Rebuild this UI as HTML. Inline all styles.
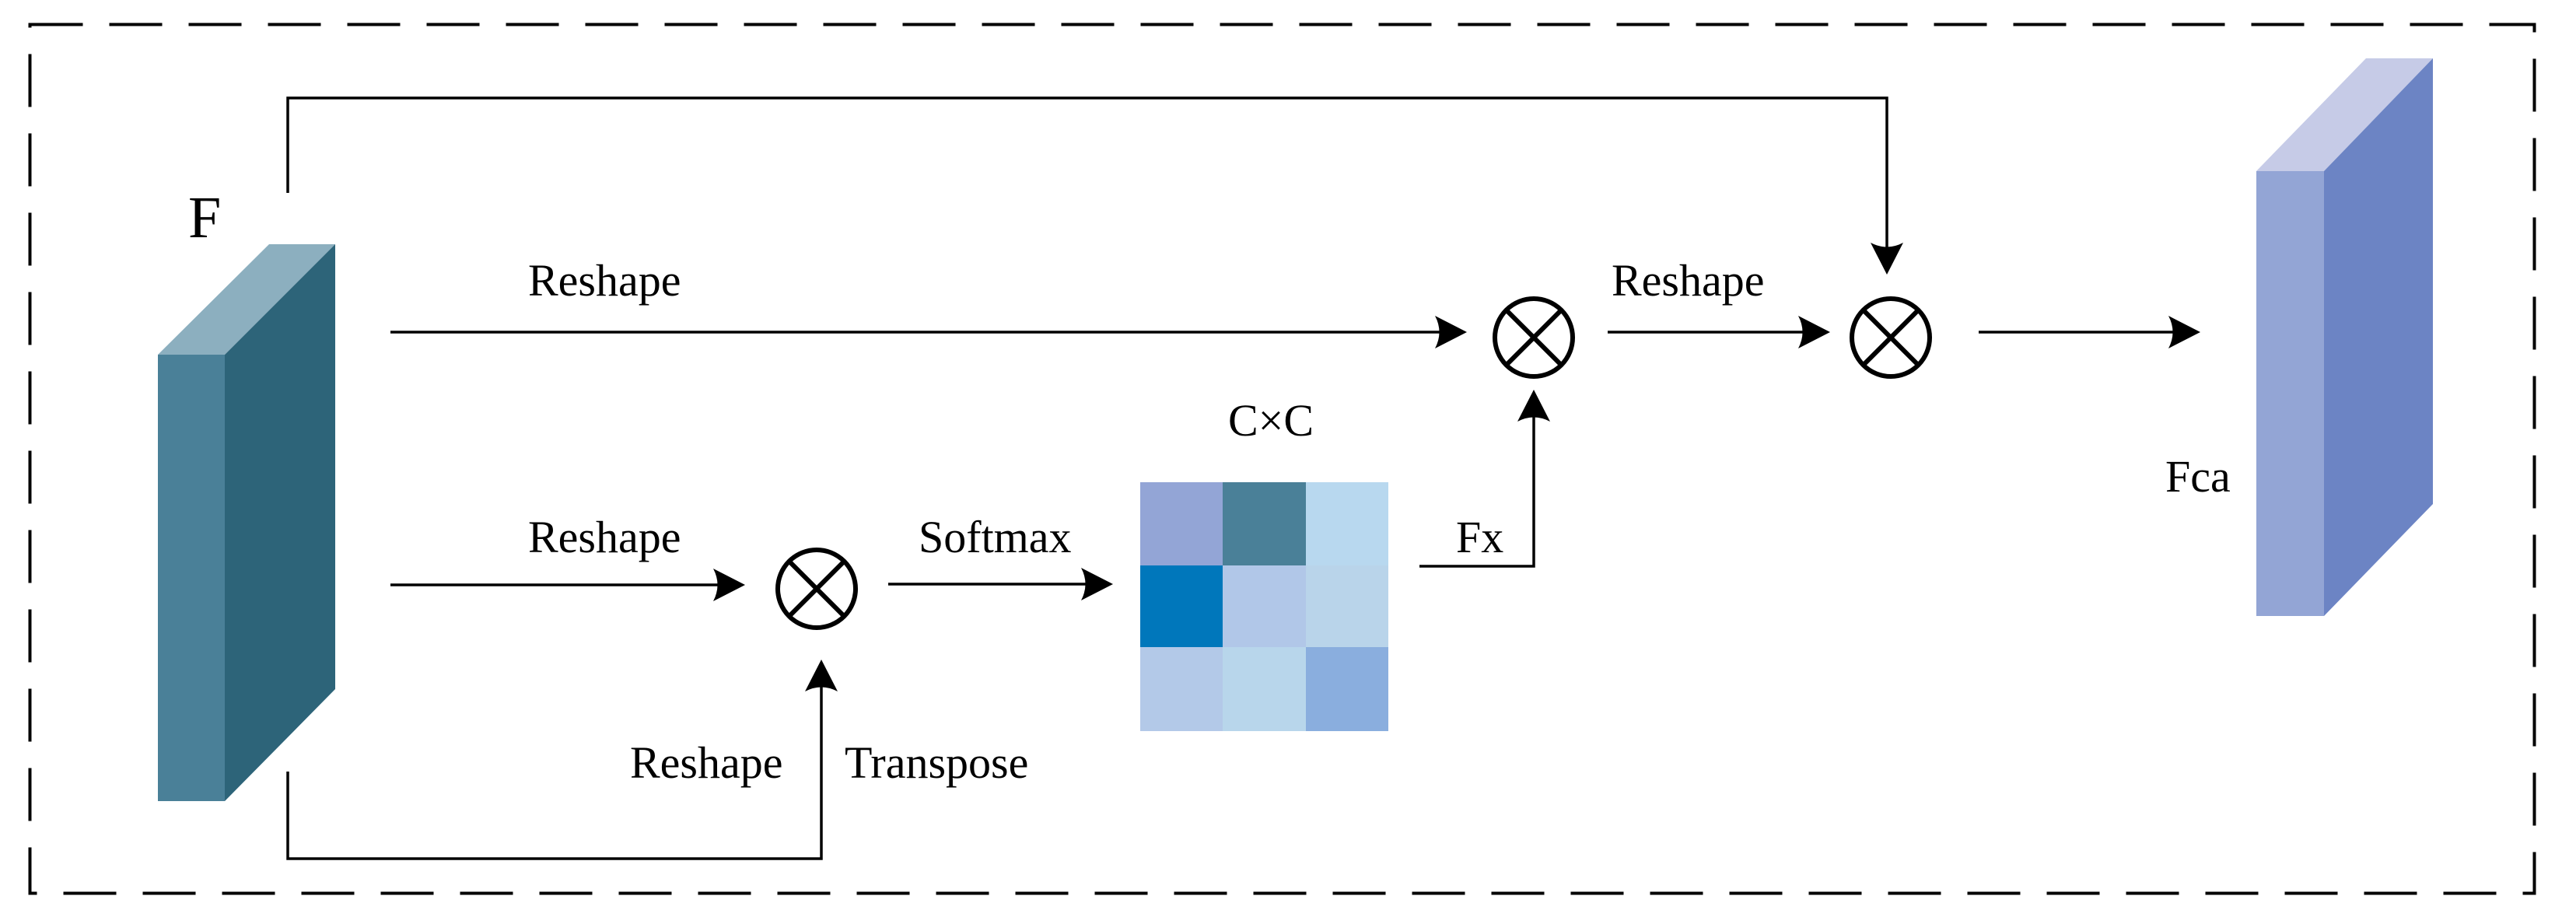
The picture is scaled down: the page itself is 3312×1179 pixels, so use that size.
<!DOCTYPE html>
<html><head><meta charset="utf-8"><style>
html,body{margin:0;padding:0;background:#fff;}
svg{display:block;}
text{font-family:"Liberation Serif",serif;fill:#000;}
</style></head><body>
<svg width="3312" height="1179" viewBox="0 0 3312 1179" xmlns="http://www.w3.org/2000/svg">
<defs>
<path id="ah" d="M0,0 L-41,-21 Q-30,0 -41,21 Z" fill="#000"/>
</defs>
<!-- dashed border -->
<rect x="38.5" y="31.5" width="3220" height="1117" fill="none" stroke="#000" stroke-width="4" stroke-dasharray="68,34"/>

<!-- F cube -->
<polygon points="203,456 346,314 431,314 289,456" fill="#8cafbf"/>
<polygon points="289,456 431,314 431,886 289,1030" fill="#2d6479"/>
<rect x="203" y="456" width="86" height="574" fill="#4a8098"/>
<text x="242" y="305" font-size="76">F</text>

<!-- Fca cube -->
<polygon points="2901,220 3042,75 3128,75 2988,220" fill="#c6cbe7"/>
<polygon points="2988,220 3128,75 3128,648 2988,792" fill="#6c84c4"/>
<rect x="2901" y="220" width="87" height="572" fill="#93a5d5"/>
<text x="2784" y="632" font-size="58">Fca</text>

<g stroke="#000" stroke-width="3.5" fill="none">
<!-- skip line top -->
<polyline points="370,248 370,126 2426,126 2426,330"/>
<!-- reshape 1 -->
<line x1="502" y1="427" x2="1870" y2="427"/>
<!-- reshape 2 -->
<line x1="502" y1="752" x2="940" y2="752"/>
<!-- bottom -->
<polyline points="370,992 370,1104 1056,1104 1056,870"/>
<!-- softmax -->
<line x1="1142" y1="751" x2="1412" y2="751"/>
<!-- Fx -->
<polyline points="1825,728 1972,728 1972,520"/>
<!-- reshape 4 -->
<line x1="2067" y1="427" x2="2335" y2="427"/>
<!-- out -->
<line x1="2544" y1="427" x2="2810" y2="427"/>
</g>
<use href="#ah" transform="translate(1886,427)"/>
<use href="#ah" transform="translate(958,752)"/>
<use href="#ah" transform="translate(1056,848) rotate(-90)"/>
<use href="#ah" transform="translate(1431,751)"/>
<use href="#ah" transform="translate(1972,501) rotate(-90)"/>
<use href="#ah" transform="translate(2353,427)"/>
<use href="#ah" transform="translate(2426,353) rotate(90)"/>
<use href="#ah" transform="translate(2829,427)"/>

<!-- circles -->
<g stroke="#000" stroke-width="6" fill="none">
<circle cx="1050" cy="757" r="50"/>
<line x1="1014.6" y1="721.6" x2="1085.4" y2="792.4"/><line x1="1085.4" y1="721.6" x2="1014.6" y2="792.4"/>
<circle cx="1972" cy="434" r="50"/>
<line x1="1936.6" y1="398.6" x2="2007.4" y2="469.4"/><line x1="2007.4" y1="398.6" x2="1936.6" y2="469.4"/>
<circle cx="2431" cy="434" r="50"/>
<line x1="2395.6" y1="398.6" x2="2466.4" y2="469.4"/><line x1="2466.4" y1="398.6" x2="2395.6" y2="469.4"/>
</g>

<!-- matrix -->
<rect x="1466" y="620" width="106" height="107" fill="#93a5d6"/>
<rect x="1572" y="620" width="107" height="107" fill="#4a8098"/>
<rect x="1679" y="620" width="106" height="107" fill="#b8d8ef"/>
<rect x="1466" y="727" width="106" height="105" fill="#0077bb"/>
<rect x="1572" y="727" width="107" height="105" fill="#b1c7e8"/>
<rect x="1679" y="727" width="106" height="105" fill="#b9d4ea"/>
<rect x="1466" y="832" width="106" height="108" fill="#b3c9e8"/>
<rect x="1572" y="832" width="107" height="108" fill="#b8d6eb"/>
<rect x="1679" y="832" width="106" height="108" fill="#8aaede"/>

<!-- labels -->
<g font-size="58">
<text x="679" y="380">Reshape</text>
<text x="679" y="710">Reshape</text>
<text x="810" y="1000">Reshape</text>
<text x="1086" y="1000">Transpose</text>
<text x="1181" y="710">Softmax</text>
<text x="1579" y="560">C×C</text>
<text x="1872" y="710">Fx</text>
<text x="2072" y="380">Reshape</text>
</g>
</svg>
</body></html>
